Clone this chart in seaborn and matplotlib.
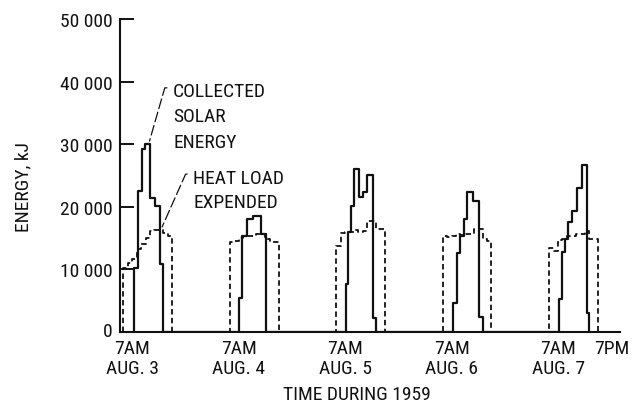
import numpy as np
import pandas as pd
import seaborn as sns
import matplotlib.pyplot as plt
import matplotlib.transforms as mtransforms
from matplotlib import font_manager
from matplotlib.ticker import FuncFormatter

# days on the chart (each day starts at 7AM, time in hours since 7AM Aug. 3)
day_labels = ["AUG. 3", "AUG. 4", "AUG. 5", "AUG. 6", "AUG. 7"]

# heat load expended, kJ, hourly from 7AM to 6PM
heat_aug3 = [10300, 11000, 11700, 13300, 14000, 15000, 16100, 16300, 16300, 15800, 15300]
heat_aug4 = [14300, 14600, 15000, 15300, 15400, 15400, 15700, 15600, 14800, 14400, 14400]
heat_aug5 = [13800, 15800, 15900, 16000, 16300, 15900, 16200, 17800, 17800, 16400, 16400]
heat_aug6 = [15400, 15100, 15300, 15600, 15500, 15700, 15600, 16400, 16400, 14800, 14600]
heat_aug7 = [13400, 12900, 14700, 14800, 15300, 15400, 15600, 15700, 16200, 14900, 14900]

# collected solar energy, kJ: hours after 7AM where each level starts
solar_aug3_t = [2.3, 3.2, 4.1, 4.9, 6.1, 7.15, 8.2, 9.0]
solar_aug3_e = [10300, 22600, 29200, 30000, 21400, 20200, 10900, 0]
solar_aug4_t = [2.15, 2.7, 3.85, 5.2, 7.0, 8.2]
solar_aug4_e = [5500, 15300, 18000, 18600, 15600, 0]
solar_aug5_t = [2.15, 2.7, 3.35, 4.1, 5.05, 6.05, 6.9, 8.2, 8.9]
solar_aug5_e = [7700, 15900, 20100, 26000, 21500, 22300, 25100, 2300, 0]
solar_aug6_t = [2.25, 3.15, 3.95, 4.85, 5.4, 6.75, 8.1, 9.1]
solar_aug6_e = [4700, 12600, 15300, 18000, 22300, 21000, 2400, 0]
solar_aug7_t = [2.2, 2.95, 3.6, 4.3, 5.2, 6.2, 7.35, 8.6, 9.1]
solar_aug7_e = [5300, 12800, 14800, 17500, 19400, 23000, 26600, 3000, 0]

heat = [heat_aug3, heat_aug4, heat_aug5, heat_aug6, heat_aug7]
solar_t = [solar_aug3_t, solar_aug4_t, solar_aug5_t, solar_aug6_t, solar_aug7_t]
solar_e = [solar_aug3_e, solar_aug4_e, solar_aug5_e, solar_aug6_e, solar_aug7_e]

rows = []
for d, vals in enumerate(heat):
    t0 = 24 * d
    rows.append((t0, 0))
    for k, v in enumerate(vals):
        rows.append((t0 + k, v))
    rows.append((t0 + len(vals), 0))
heat_df = pd.DataFrame(rows, columns=["hours", "energy"])

rows = []
for d, (ts, es) in enumerate(zip(solar_t, solar_e)):
    t0 = 24 * d
    rows.append((t0 + ts[0], 0))
    for t, e in zip(ts, es):
        rows.append((t0 + t, e))
solar_df = pd.DataFrame(rows, columns=["hours", "energy"])

sns.set_style("ticks")

# narrow lettering like the original; pick what is installed
fonts = font_manager.fontManager.ttflist
names = {f.name for f in fonts}
stretch = "normal"
family = ["DejaVu Sans"]
if "Liberation Sans Narrow" in names:
    family = ["Liberation Sans Narrow", "DejaVu Sans"]
elif "Roboto Condensed" in names:
    family = ["Roboto Condensed", "DejaVu Sans"]
elif any(f.name == "DejaVu Sans" and str(f.stretch) in ("condensed", "semi-condensed", "600", "500")
         for f in fonts):
    family = ["DejaVu Sans"]
    stretch = "condensed"
elif "Roboto" in names:
    family = ["Roboto", "DejaVu Sans"]
plt.rcParams["font.family"] = family
plt.rcParams["font.stretch"] = stretch
fs = 14 if family[0] != "DejaVu Sans" else 12.5
plt.rcParams["font.size"] = fs

fig = plt.figure(figsize=(6.33, 4.10), dpi=100)
ax = fig.add_axes([0.1896, 0.1878, 0.7899, 0.7634])

ink = "#111111"
sns.lineplot(data=heat_df, x="hours", y="energy", ax=ax, estimator=None, sort=False,
             drawstyle="steps-post", color=ink, lw=1.3, linestyle=(0, (3, 1.9)))
sns.lineplot(data=solar_df, x="hours", y="energy", ax=ax, estimator=None, sort=False,
             drawstyle="steps-post", color=ink, lw=1.6)

ax.set_xlim(-0.75, 112)
ax.set_ylim(0, 50000)
for s in ["top", "right"]:
    ax.spines[s].set_visible(False)
for s in ["left", "bottom"]:
    ax.spines[s].set_linewidth(1.5)
    ax.spines[s].set_color(ink)

ax.set_yticks(range(0, 50001, 10000))
ax.yaxis.set_major_formatter(FuncFormatter(lambda v, p: f"{int(v):,}".replace(",", " ")))
ax.tick_params(axis="y", direction="in", length=10, width=1.4, pad=5, labelsize=fs, colors=ink)

ax.set_xticks([0, 24, 48, 72, 96, 108])
ax.set_xticklabels([f"7AM\n{d}" for d in day_labels] + ["7PM\n"])
ax.tick_params(axis="x", length=0, pad=5, labelsize=fs, colors=ink)
shift = mtransforms.ScaledTranslation(9 / 100, 0, fig.dpi_scale_trans)
for lbl in ax.get_xticklabels():
    lbl.set_linespacing(1.15)
    lbl.set_transform(lbl.get_transform() + shift)
# lift the "0" a little so it clears the first time label
zero_lbl = ax.get_yticklabels()[0]
zero_lbl.set_transform(zero_lbl.get_transform()
                       + mtransforms.ScaledTranslation(-1 / 100, 3 / 100, fig.dpi_scale_trans))

ax.set_xlabel("TIME DURING 1959", fontsize=fs, color=ink)
ax.xaxis.set_label_coords(0.474, -0.168)
ax.set_ylabel("ENERGY, kJ", fontsize=fs, color=ink)
ax.yaxis.set_label_coords(-0.176, 0.466)

lead = dict(arrowstyle="-", color=ink, lw=0.9, linestyle=(0, (8, 3)), shrinkA=2, shrinkB=0)
ax.annotate("COLLECTED\nSOLAR\nENERGY", xy=(5.9, 30500), xytext=(11.2, 40000),
            ha="left", va="top", linespacing=1.55, fontsize=fs, color=ink,
            arrowprops=dict(lead, relpos=(0, 0.91),
                            connectionstyle="angle,angleA=0,angleB=74,rad=0"))
ax.annotate("HEAT LOAD\nEXPENDED", xy=(8.75, 16800), xytext=(15.75, 26100),
            ha="left", va="top", linespacing=1.45, fontsize=fs, color=ink,
            arrowprops=dict(lead, relpos=(0, 0.87),
                            connectionstyle="angle,angleA=0,angleB=66,rad=0"))

fig.savefig("out.png", dpi=100)
